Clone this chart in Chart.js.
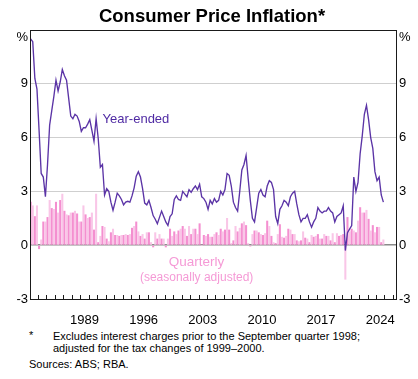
<!DOCTYPE html>
<html><head><meta charset="utf-8">
<script src="https://cdn.jsdelivr.net/npm/chart.js@4.4.1/dist/chart.umd.min.js"></script>
<style>
html,body{margin:0;padding:0;background:#fff;width:418px;height:379px;overflow:hidden;font-family:Arial,"Liberation Sans",sans-serif;}
#wrap{position:relative;width:418px;height:379px;}
#c{position:absolute;left:0;top:0;}
.t{position:absolute;white-space:nowrap;color:#000;}
</style></head><body>
<div id="wrap">
<canvas id="c" width="418" height="325"></canvas>
<div class="t" style="left:3px;width:418px;top:6px;text-align:center;font-weight:bold;font-size:18.5px;line-height:20px;">Consumer Price Inflation*</div>
<div class="t" style="left:29px;top:329px;font-size:11px;line-height:12px;">*</div>
<div class="t" style="left:53px;top:330px;font-size:11px;line-height:12px;">Excludes interest charges prior to the September quarter 1998;<br>adjusted for the tax changes of 1999–2000.</div>
<div class="t" style="left:29px;top:358px;font-size:11px;line-height:12px;">Sources: ABS; RBA.</div>
</div>
<script>
// First quarter shown: March quarter 1983; one value per quarter through December quarter 2024
const startYear = 1983;

// Year-ended inflation, %
const yearEnded = [
  11.5, 11.35, 9.3, 8.7,
  6.4, 4.0, 3.8, 2.7,
  4.5, 6.7, 7.5, 8.3,
  9.2, 8.6, 9.1, 9.8,
  9.45, 9.2, 8.2, 7.2,
  7.05, 7.3, 7.2, 6.9,
  6.35, 6.55, 6.55, 6.75,
  7.0, 6.4, 5.8, 7.05,
  5.95, 4.35, 4.5, 2.8,
  3.15, 3.0, 2.4, 1.95,
  2.4, 2.9, 2.75, 2.55,
  2.25, 2.4, 2.45, 2.4,
  2.75, 3.2, 3.85, 4.1,
  3.8, 3.15, 2.35, 2.25,
  2.5, 2.1, 1.65, 1.45,
  1.2, 1.55, 1.9, 1.6,
  1.3, 1.1, 1.6, 1.75,
  2.55, 2.75, 2.55, 2.5,
  3.0, 2.85, 2.7, 3.1,
  2.95, 3.15, 3.3, 3.1,
  3.4, 2.7, 2.6, 2.4,
  2.0, 2.5, 2.3, 2.6,
  2.4, 2.5, 3.0, 2.8,
  3.1, 4.0, 3.9, 3.3,
  2.4, 2.1, 1.9, 3.0,
  4.2, 4.5, 5.0, 3.7,
  2.5, 1.5, 1.3, 2.1,
  2.9, 3.1, 2.8, 2.7,
  3.3, 3.6, 3.5, 3.1,
  1.6, 1.2, 2.0, 2.2,
  2.5, 2.4, 2.2, 2.7,
  2.9, 3.0, 2.3, 1.7,
  1.3, 1.5, 1.5, 1.7,
  1.3, 1.0, 1.3, 1.5,
  2.1, 1.9, 1.8, 1.9,
  1.9, 2.1, 1.9, 1.8,
  1.3, 1.6, 1.7, 1.8,
  2.2, -0.3, 0.7, 0.9,
  1.1, 3.8, 3.0, 3.5,
  5.1, 6.1, 7.3, 7.8,
  7.0, 6.0, 5.4, 4.1,
  3.6, 3.8, 2.8, 2.4
];

// Quarterly inflation (seasonally adjusted), %
const quarterly = [
  2.4, 2.2, 1.6, 2.2,
  -0.2, 0.3, 1.3, 1.3,
  1.55, 2.5, 2.05, 2.0,
  2.4, 1.8, 2.5, 2.85,
  1.9, 1.7, 1.65, 1.8,
  1.8, 1.9, 1.75, 1.3,
  1.3, 2.2, 1.7, 1.5,
  1.55, 1.8, 0.85, 2.85,
  0.15, 0.5, 1.05, 1.0,
  0.35, 0.2, 0.7, 0.9,
  0.55, 0.55, 0.5, 0.55,
  0.55, 0.6, 0.55, 0.6,
  0.95, 1.05, 1.3, 0.75,
  0.5, 0.6, 0.35, 0.7,
  0.7, 0.15, -0.1, 0.7,
  0.35, 0.6, 0.35, 0.35,
  -0.1, 0.35, 0.9, 0.5,
  0.75, 0.6, 0.8, 0.9,
  1.05, 0.9, 0.5, 1.05,
  0.6, 0.9, 0.9, 0.6,
  1.2, 0.0, 0.55, 0.5,
  0.6, 0.45, 0.45, 0.6,
  0.7, 0.55, 0.9, 0.75,
  0.85, 1.5, 0.85, 0.1,
  0.25, 1.05, 0.75, 0.95,
  1.2, 1.3, 1.1, 0.1,
  -0.05, 0.6, 0.8, 0.8,
  0.7, 0.6, 0.55, 0.65,
  1.35, 1.05, 0.5, 0.15,
  0.1, 0.6, 1.15, 0.45,
  0.4, 0.5, 0.9, 0.85,
  0.6, 0.6, 0.25, 0.2,
  0.25, 0.75, 0.4, 0.35,
  0.15, 0.55, 0.45, 0.5,
  0.6, 0.35, 0.35, 0.6,
  0.5, 0.5, 0.25, 0.65,
  0.15, 0.65, 0.5, 0.55,
  0.6, -1.9, 1.55, 0.75,
  0.9, 0.8, 0.7, 1.35,
  2.1, 1.8, 1.8, 1.95,
  1.45, 0.8, 1.1, 0.7,
  1.0, 1.0, 0.15, 0.3
];

// Axis labels
const labelYears = [1989, 1996, 2003, 2010, 2017, 2024];
const yTickValues = [-3, 0, 3, 6, 9, 12];

// Quarter position on the time axis (middle of the quarter)
const qx = i => startYear + Math.floor(i / 4) + ((i % 4) + 0.5) / 4;

const FONT = 'Arial, "Liberation Sans", sans-serif';

const decorations = {
  id: 'decorations',
  afterDraw(chart) {
    const ctx = chart.ctx, a = chart.chartArea, xs = chart.scales.x, ys = chart.scales.y;
    ctx.save();
    ctx.strokeStyle = '#1a1a1a';
    ctx.lineWidth = 1;
    ctx.beginPath();
    for (let yr = Math.ceil(xs.min); yr <= Math.floor(xs.max); yr++) {
      const px = Math.round(xs.getPixelForValue(yr)) + 0.5;
      if (px <= a.left + 1 || px >= a.right - 1) continue;
      ctx.moveTo(px, a.bottom);
      ctx.lineTo(px, a.bottom - 4);
    }
    ctx.stroke();
    ctx.strokeRect(a.left + 0.5, a.top + 0.5, a.right - a.left, a.bottom - a.top);
    ctx.fillStyle = '#000';
    ctx.font = '13px ' + FONT;
    ctx.textBaseline = 'middle';
    ctx.textAlign = 'right';
    ctx.fillText('%', a.left - 2, a.top + 7);
    ctx.textAlign = 'left';
    ctx.fillText('%', a.right + 3, a.top + 7);
    ctx.fillStyle = '#4f2aa3';
    ctx.textAlign = 'left';
    ctx.fillText('Year-ended', xs.getPixelForValue(1991.64), ys.getPixelForValue(7.04));
    ctx.fillStyle = '#f59ad6';
    ctx.textAlign = 'center';
    ctx.font = '13.5px ' + FONT;
    ctx.fillText('Quarterly', xs.getPixelForValue(2002.77), ys.getPixelForValue(-0.95));
    ctx.font = '12px ' + FONT;
    ctx.fillText('(seasonally adjusted)', xs.getPixelForValue(2002.77), ys.getPixelForValue(-1.8));
    ctx.restore();
  }
};

const yCommon = {
  type: 'linear', min: -3, max: 12,
  afterBuildTicks: s => { s.ticks = yTickValues.map(v => ({ value: v })); },
  border: { display: false },
  ticks: {
    padding: 2, color: '#000', font: { size: 13, family: FONT },
    callback: v => (v === 12 ? '' : String(v))
  }
};

new Chart(document.getElementById('c'), {
  type: 'bar',
  data: {
    datasets: [
      {
        type: 'line',
        label: 'Year-ended',
        data: yearEnded.map((v, i) => ({ x: qx(i), y: v })),
        borderColor: '#5b34a6',
        borderWidth: 1.35,
        pointRadius: 0,
        tension: 0,
        fill: false,
        order: 0,
        yAxisID: 'y'
      },
      {
        type: 'bar',
        label: 'Quarterly',
        data: quarterly.map((v, i) => ({ x: qx(i), y: v })),
        backgroundColor: quarterly.map((v, i) => (i % 2 === 0 ? '#f48fd0' : '#f9c6e7')),
        borderWidth: 0,
        barThickness: 1.4,
        order: 1,
        yAxisID: 'y'
      }
    ]
  },
  options: {
    responsive: false,
    animation: false,
    devicePixelRatio: 1,
    layout: { padding: { top: 30, left: 0, right: 0, bottom: 0 } },
    plugins: { legend: { display: false }, tooltip: { enabled: false }, title: { display: false } },
    scales: {
      x: {
        type: 'linear', min: 1983.05, max: 2026.37, offset: false,
        grid: { display: false, offset: false },
        border: { display: false },
        afterBuildTicks: s => { s.ticks = labelYears.map(y => ({ value: y + 0.5 })); },
        afterFit: s => { s.height = 26; },
        ticks: {
          autoSkip: false, maxRotation: 0, minRotation: 0, padding: 6,
          color: '#000', font: { size: 13, family: FONT },
          callback: v => String(Math.floor(v))
        }
      },
      y: Object.assign({}, yCommon, {
        position: 'left',
        afterFit: s => { s.width = 30; },
        grid: {
          drawTicks: false,
          color: c => (c.tick && c.tick.value === 0 ? '#8a8a8a' : (c.tick && (c.tick.value === 12 || c.tick.value === -3) ? 'rgba(0,0,0,0)' : '#cfcfcf')),
          lineWidth: c => (c.tick && c.tick.value === 0 ? 1.5 : 1)
        }
      }),
      y2: Object.assign({}, yCommon, {
        position: 'right',
        afterFit: s => { s.width = 22; },
        grid: { display: false, drawTicks: false },
        ticks: Object.assign({}, yCommon.ticks, { padding: 3 })
      })
    }
  },
  plugins: [decorations]
});
</script>
</body></html>
